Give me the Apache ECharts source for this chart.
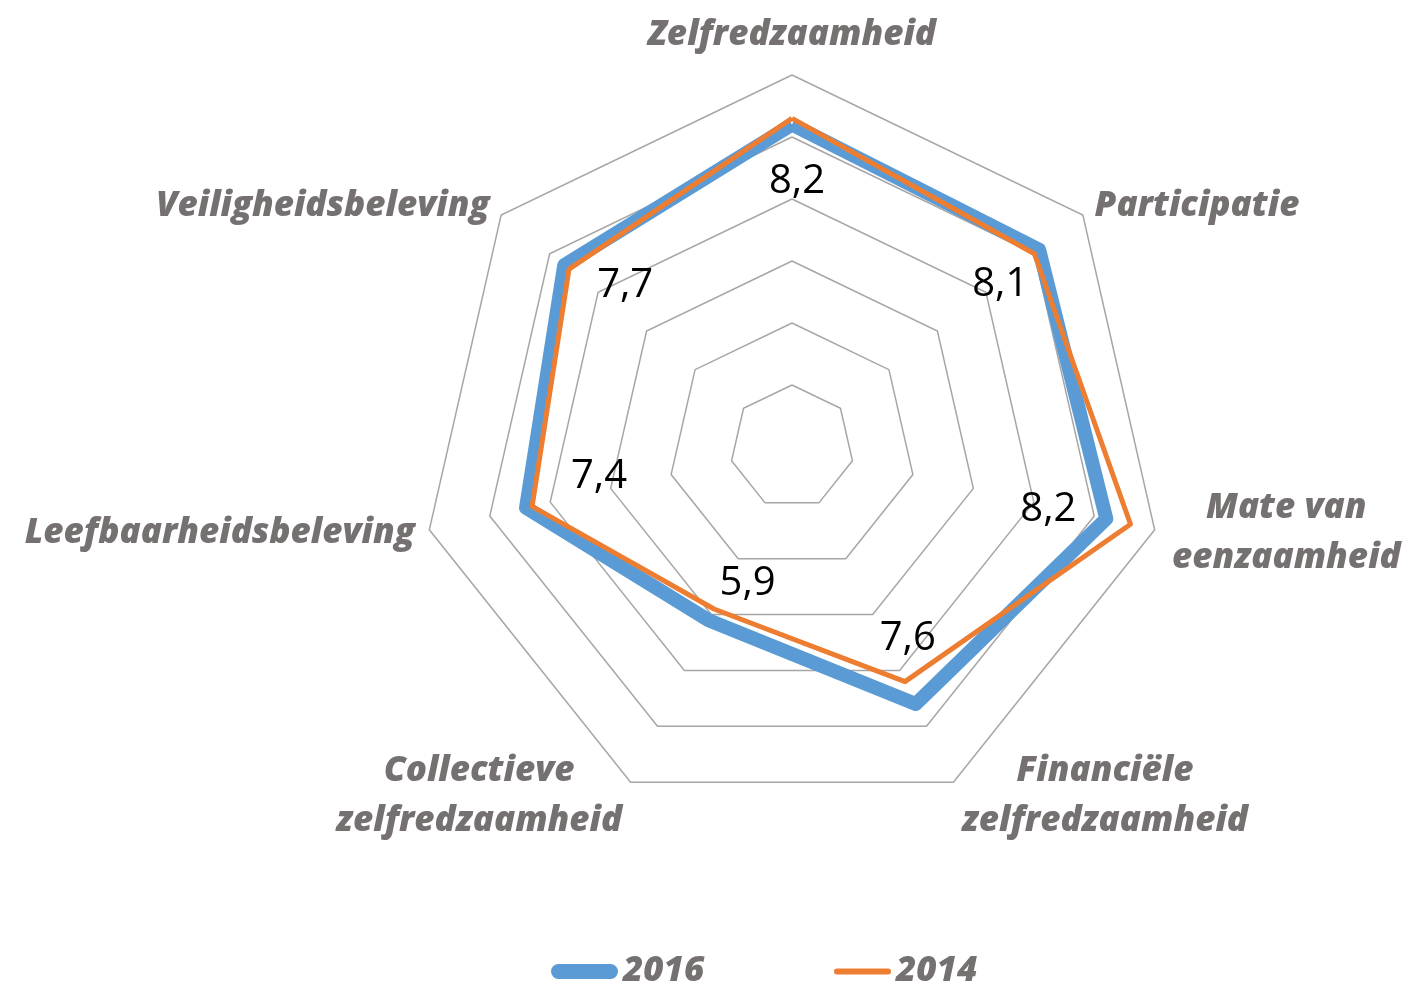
<!DOCTYPE html>
<html>
<head>
<meta charset="utf-8">
<script src="https://cdn.jsdelivr.net/npm/echarts@6/dist/echarts.min.js"></script>
<style>
    html, body { margin: 0; padding: 0; background: #fff; }
    #chart { width: 1414px; height: 984px; }
</style>
</head>
<body>
<div id="chart"></div>
<script>
    // categories, clockwise from the top
    var categories = ['Zelfredzaamheid', 'Participatie', 'Mate van\neenzaamheid', 'Financiële\nzelfredzaamheid',
        'Collectieve\nzelfredzaamheid', 'Leefbaarheidsbeleving', 'Veiligheidsbeleving'];
    var values2016 = [8.2, 8.1, 8.2, 7.6, 6.1, 7.4, 7.7];
    var values2014 = [8.3, 8.0, 8.6, 7.2, 5.9, 7.3, 7.6];
    var labels2016 = ['8,2', '8,1', '8,2', '7,6', '5,9', '7,4', '7,7'];   // printed labels
    var seriesNames = ['2016', '2014'];
    var axisMin = 3, axisMax = 9;

    // echarts lays indicators out counter-clockwise, so reorder
    var order = [0, 6, 5, 4, 3, 2, 1];
    function reorder(arr) { return order.map(function (i) { return arr[i]; }); }

    // label shift (dx, dy) from the point, in category order
    var labelShift = [[5, 57], [-39, 35], [-58, -9], [-8, -65], [39, -37], [73, -31], [61, 20]];

    var grey = '#767171';
    var font = "'Open Sans', 'Noto Sans', sans-serif";

    var rich = {};
    reorder(labelShift).forEach(function (s, k) {
        var dx = s[0], dy = s[1];
        rich['s' + k] = {
            padding: [Math.max(0, 2 * dy), Math.max(0, -2 * dx), Math.max(0, -2 * dy), Math.max(0, 2 * dx)]
        };
    });

    var nameRich = {
        w1: { width: 290, align: 'center' },
        w2: { width: 234, align: 'center' }
    };

    var legendText = { color: grey, fontSize: 35, fontWeight: 800, fontStyle: 'italic', fontFamily: font };

    var chart = echarts.init(document.getElementById('chart'), null, { renderer: 'canvas' });
    chart.setOption({
        backgroundColor: '#fff',
        textStyle: { fontFamily: font },
        legend: [
            {
                data: [{ name: '2016', icon: 'path://M7.5,0 H59.5 A7.5,7.5 0 0 1 59.5,15 H7.5 A7.5,7.5 0 0 1 7.5,0 Z' }],
                left: 546, top: 949,
                itemWidth: 67, itemHeight: 15, itemGap: 5,
                itemStyle: { borderWidth: 0 },
                textStyle: legendText
            },
            {
                data: [{ name: '2014', icon: 'path://M3,0 H54 A3,3 0 0 1 54,6 H3 A3,3 0 0 1 3,0 Z' }],
                left: 829, top: 949,
                itemWidth: 57, itemHeight: 6, itemGap: 5,
                itemStyle: { borderWidth: 0 },
                textStyle: legendText
            }
        ],
        radar: {
            center: [792, 447],
            radius: 372,
            startAngle: 90,
            shape: 'polygon',
            splitNumber: 6,
            indicator: reorder(categories).map(function (c) {
                return { name: c, min: axisMin, max: axisMax };
            }),
            axisNameGap: 15,
            axisName: {
                color: grey,
                fontSize: 35,
                fontWeight: 800,
                fontStyle: 'italic',
                fontFamily: font,
                lineHeight: 50,
                formatter: function (name) {
                    if (name.indexOf('\n') < 0) return name;
                    var tag = name.indexOf('Mate') === 0 ? 'w2' : 'w1';
                    return name.split('\n').map(function (l) { return '{' + tag + '|' + l + '}'; }).join('\n');
                },
                rich: nameRich
            },
            axisLine: { show: false },
            axisTick: { show: false },
            axisLabel: { show: false },
            splitArea: { show: false },
            splitLine: { lineStyle: { color: '#A6A6A6', width: 1.5 } }
        },
        series: [{
            type: 'radar',
            silent: true,
            data: [
                {
                    name: seriesNames[0],
                    value: reorder(values2016),
                    symbol: 'circle',
                    symbolSize: 1,
                    itemStyle: { color: '#5B9BD5' },
                    lineStyle: { color: '#5B9BD5', width: 14, join: 'round' },
                    label: {
                        show: true,
                        position: 'inside',
                        color: '#000',
                        fontSize: 40,
                        fontFamily: font,
                        formatter: function (p) {
                            var k = p.dimensionIndex;
                            return '{s' + k + '|' + reorder(labels2016)[k] + '}';
                        },
                        rich: rich
                    }
                },
                {
                    name: seriesNames[1],
                    value: reorder(values2014),
                    symbol: 'none',
                    itemStyle: { color: '#ED7D31' },
                    lineStyle: { color: '#ED7D31', width: 5, join: 'round' },
                    label: { show: false }
                }
            ]
        }]
    });
</script>
</body>
</html>
